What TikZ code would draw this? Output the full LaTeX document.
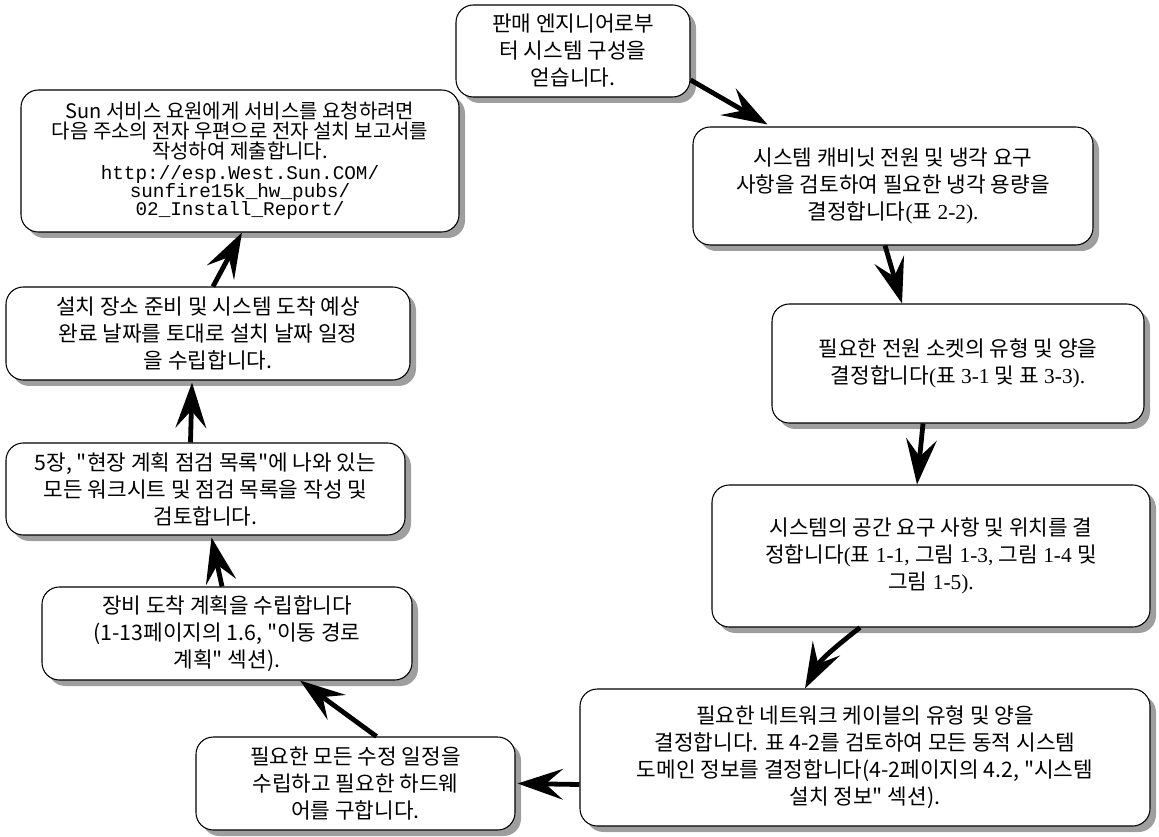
\documentclass[tikz,border=0pt]{standalone}
\usepackage{fontspec}
\newfontfamily\kr{Noto Sans CJK KR}
\newfontfamily\lserif{Liberation Serif}
\newfontfamily\lmono{Liberation Mono}
\usetikzlibrary{arrows.meta,shadows,calc}
\newcommand\sr[1]{{\lserif #1}}
\begin{document}
\begin{tikzpicture}[x=0.75pt,y=0.75pt,
  box/.style 2 args={draw=black, line width=0.8pt, fill=white, rounded corners=13pt,
    minimum width=#1, minimum height=#2, inner sep=0pt, align=center,
    drop shadow={shadow xshift=4.5pt, shadow yshift=-4.5pt, fill=black!38, opacity=1},
    font=\kr\fontsize{16}{20.25}\selectfont},
  flow/.style={line width=3.6pt, -{Stealth[length=34pt, width=23pt, inset=13pt]}}
]
\useasboundingbox (0,0) rectangle (1159,836);

\node[box={175.5pt}{69pt}] (A) at (573,785) {판매 엔지니어로부\\터 시스템 구성을\\얻습니다.};
\node[box={300pt}{88.5pt}] (B) at (893,650) {시스템 캐비닛 전원 및 냉각 요구\\사항을 검토하여 필요한 냉각 용량을\\결정합니다\sr{(}표\sr{ 2-2).}};
\node[box={279pt}{89.25pt}] (C) at (958,472.5) {필요한 전원 소켓의 유형 및 양을\\결정합니다\sr{(}표\sr{ 3-1 }및 표\sr{ 3-3).}};
\node[box={328.5pt}{106.5pt}] (D) at (931,280) {시스템의 공간 요구 사항 및 위치를 결\\정합니다\sr{(}표\sr{ 1-1, }그림\sr{ 1-3, }그림\sr{ 1-4 }및\\그림\sr{ 1-5).}};
\node[box={427.5pt}{102.75pt}] (E) at (865,78.5) {필요한 네트워크 케이블의 유형 및 양을\\결정합니다. 표 4-2를 검토하여 모든 동적 시스템\\도메인 정보를 결정합니다(4-2페이지의 4.2, "시스템\\설치 정보" 섹션).};
\node[box={239.25pt}{69.75pt}] (F) at (355.5,52.5) {필요한 모든 수정 일정을\\수립하고 필요한 하드웨\\어를 구합니다.};
\node[box={277.5pt}{69.75pt}] (G) at (227,202.5) {장비 도착 계획을 수립합니다\\(1-13페이지의 1.6, "이동 경로\\계획" 섹션).};
\node[box={299.25pt}{69pt}] (H) at (205.5,347) {5장, "현장 계획 점검 목록"에 나와 있는\\모든 워크시트 및 점검 목록을 작성 및\\검토합니다.};
\node[box={303pt}{69.75pt}] (I) at (208,502.5) {설치 장소 준비 및 시스템 도착 예상\\완료 날짜를 토대로 설치 날짜 일정\\을 수립합니다.};
\node[box={328.5pt}{106.5pt}, font=\kr\fontsize{15}{15}\selectfont] (J) at (240,675) {Sun 서비스 요원에게 서비스를 요청하려면\\다음 주소의 전자 우편으로 전자 설치 보고서를\\작성하여 제출합니다.\\[1pt]{\lmono\fontsize{14.5}{14}\selectfont http://esp.West.Sun.COM/}\\[-1.5pt]{\lmono\fontsize{14.5}{14}\selectfont sunfire15k\_hw\_pubs/}\\[-1.5pt]{\lmono\fontsize{14.5}{14}\selectfont 02\_Install\_Report/}};

\draw[flow] ($(A.east)+(0,-29)$) -- ($(B.north west)+(75,2)$);
\draw[flow] ($(B.south)+(-8,0)$) -- ($(C.north)+(-56,0)$);
\draw[flow] ($(C.south)+(-35,0)$) -- ($(D.north)+(-14,0)$);
\draw[flow] ($(D.south)+(-71,0)$) to[out=218, in=62] ($(E.north)+(-60,0)$);
\draw[flow] ($(E.west)+(0,-27)$) -- ($(F.east)+(2,0)$);
\draw[flow] ($(F.north)+(21,0)$) -- ($(G.south)+(73,0)$);
\draw[flow] ($(G.north)+(-5,0)$) -- ($(H.south)+(6,-2)$);
\draw[flow] ($(H.north)+(-15,0)$) -- ($(I.south)+(-16,-2)$);
\draw[flow] ($(I.north)+(5,0)$) -- ($(J.south)+(2,0)$);
\end{tikzpicture}
\end{document}
